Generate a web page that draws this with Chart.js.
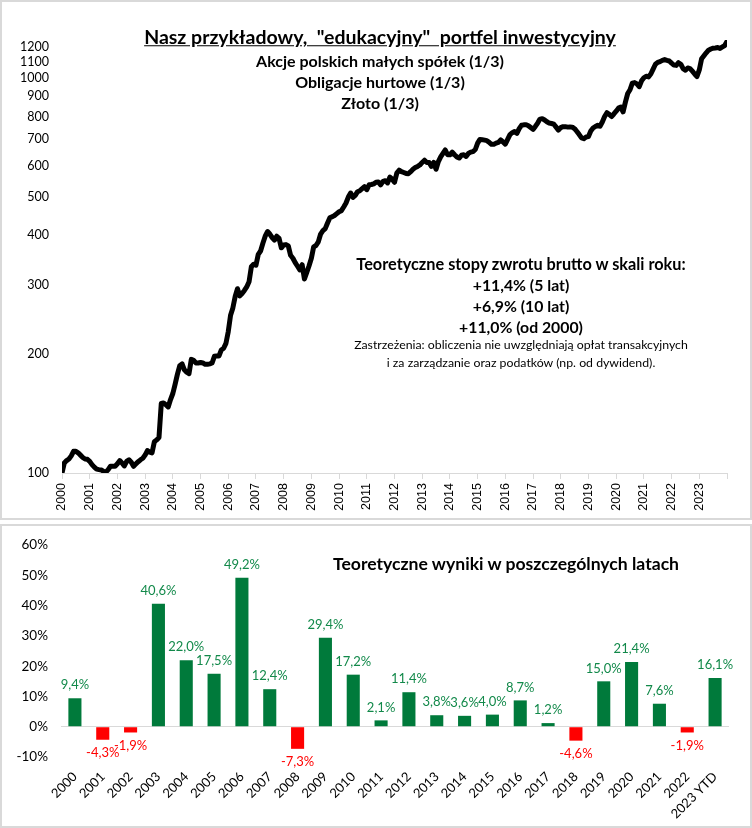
<!DOCTYPE html>
<html><head><meta charset="utf-8">
<script src="https://cdn.jsdelivr.net/npm/chart.js@4.4.1/dist/chart.umd.min.js"></script>
<style>
html,body{margin:0;padding:0;background:#fff;}
body{width:752px;height:828px;position:relative;overflow:hidden;font-family:Lato,"Open Sans",sans-serif;}
.box{position:absolute;box-sizing:border-box;border:2px solid #d9d9d9;}
canvas{position:absolute;left:0;}
.t{position:absolute;white-space:nowrap;transform:translate(-50%,-50%);color:#000;line-height:1;}
.b{font-weight:700;}
</style></head>
<body>
<div class="box" style="left:0;top:0;width:752px;height:520px;"></div>
<div class="box" style="left:0;top:524px;width:752px;height:304px;"></div>
<canvas id="c1" width="752" height="520" style="top:0"></canvas>
<canvas id="c2" width="752" height="304" style="top:524px"></canvas>

<div class="t b" style="left:380px;top:37px;font-size:19.5px;text-decoration:underline;">Nasz przykładowy,&nbsp; "edukacyjny"&nbsp; portfel inwestycyjny</div>
<div class="t b" style="left:380px;top:61px;font-size:16px;">Akcje polskich małych spółek (1/3)</div>
<div class="t b" style="left:380px;top:82px;font-size:16px;">Obligacje hurtowe (1/3)</div>
<div class="t b" style="left:380px;top:103px;font-size:16px;">Złoto (1/3)</div>

<div class="t b" style="left:521px;top:264px;font-size:16.3px;">Teoretyczne stopy zwrotu brutto w skali roku:</div>
<div class="t b" style="left:521px;top:285px;font-size:15.8px;">+11,4% (5 lat)</div>
<div class="t b" style="left:521px;top:306px;font-size:15.8px;">+6,9% (10 lat)</div>
<div class="t b" style="left:521px;top:327px;font-size:15.8px;">+11,0% (od 2000)</div>
<div class="t" style="left:521px;top:345px;font-size:12.3px;">Zastrzeżenia: obliczenia nie uwzględniają opłat transakcyjnych</div>
<div class="t" style="left:521px;top:363px;font-size:12.3px;">i za zarządzanie oraz podatków (np. od dywidend).</div>

<div class="t b" style="left:506px;top:564px;font-size:17.6px;">Teoretyczne wyniki w poszczególnych latach</div>

<script>
// ---- Data ----
const startYear = 2000;
// monthly portfolio value (start = 100), Jan 2000 .. Jan 2024
const portfolioValues = [
  100,106,107.5,108.5,110.5,113.5,113.5,112.5,111,109.5,108.5,108.3,
  107,105,103.5,102.3,102,101.8,101,100.5,102,104,104,104,
  105.5,107.5,106,104.2,107,108,106.5,104,105.5,106.8,108,109,
  111,114,113,112.5,120,121.3,123,150,150.5,149,147,153.5,
  159,168,178,187,189,182.5,180,178.5,194,193,190,190,
  190.5,190,188.5,188.5,189,190,197.5,198,198,205,207,213,
  228,251,262,280,293,281,285,290,296,305,333,338,
  336,358,365,382,398,409,403,395,389,398,393,372,
  378,379,376,356,350,341,334,327,337,310,322,335,
  350,374,377,385,403,411,416,430,443,446,449,454,
  459,462,472,483,500,512,499,505,516,519,525,531,
  522,537,538,540,545,546,537,548,550,543,562,555,
  545,575,585,580,577,574,573,580,588,594,598,603,
  612,620,612,612,598,612,588,615,632,645,658,640,
  640,650,640,632,628,638,640,634,645,650,652,660,
  685,700,699,697,695,688,680,680,685,688,698,690,
  681,700,720,728,733,725,745,760,762,763,758,750,
  742,755,770,788,790,784,776,770,768,765,752,739,
  750,754,754,752,753,752,745,733,720,706,703,710,
  712,735,748,755,760,756,775,800,818,810,800,812,
  825,840,845,822,870,915,935,972,975,968,952,985,
  1003,1012,1008,1025,1055,1085,1097,1102,1110,1115,1110,1106,
  1092,1080,1078,1095,1085,1058,1048,1062,1058,1042,1025,1010,
  1050,1120,1140,1160,1178,1186,1192,1193,1196,1190,1200,1210,
  1240
];
const xTickYears = [2000,2001,2002,2003,2004,2005,2006,2007,2008,2009,2010,2011,2012,2013,2014,2015,2016,2017,2018,2019,2020,2021,2022,2023,2024];
const yTickValues = [100,200,300,400,500,600,700,800,900,1000,1100,1200];

const yearLabels = ['2000','2001','2002','2003','2004','2005','2006','2007','2008','2009','2010','2011','2012','2013','2014','2015','2016','2017','2018','2019','2020','2021','2022','2023 YTD'];
const annualReturns = [9.4,-4.3,-1.9,40.6,22.0,17.5,49.2,12.4,-7.3,29.4,17.2,2.1,11.4,3.8,3.6,4.0,8.7,1.2,-4.6,15.0,21.4,7.6,-1.9,16.1];
const returnTicks = [-10,0,10,20,30,40,50,60];

const GREEN = '#007a3b', RED = '#ff0000', GREEN_TXT = '#12894a';

// ---- Top chart ----
new Chart(document.getElementById('c1'), {
  type: 'line',
  data: { datasets: [{
    data: portfolioValues.map((v, i) => ({ x: startYear + i / 12, y: v })),
    borderColor: '#000', borderWidth: 5, pointRadius: 0, tension: 0,
    borderJoinStyle: 'round', borderCapStyle: 'round', fill: false
  }]},
  options: {
    responsive: false, animation: false, devicePixelRatio: 1,
    layout: { padding: { top: 40, right: 25, left: 0, bottom: 0 } },
    plugins: { legend: { display: false }, tooltip: { enabled: false } },
    scales: {
      x: {
        type: 'linear', min: 2000, max: 2024,
        afterBuildTicks: s => { s.ticks = xTickYears.map(v => ({ value: v })); },
        ticks: { autoSkip: false, minRotation: 90, maxRotation: 90,
          callback: v => (v === 2024 ? '' : String(v)),
          font: { family: 'Liberation Sans', size: 12.5 }, color: '#000', padding: 4 },
        grid: { display: true, drawOnChartArea: false, drawTicks: true, tickLength: 6, color: '#d9d9d9' },
        border: { display: true, color: '#d9d9d9', width: 1 },
        afterFit: s => { s.height = 47; }
      },
      y: {
        type: 'logarithmic', min: 100, max: 1250,
        afterBuildTicks: s => { s.ticks = yTickValues.map(v => ({ value: v })); },
        ticks: { callback: v => String(v), font: { family: 'Lato', size: 12.5 }, color: '#000', padding: 13 },
        grid: { display: false, drawTicks: false },
        border: { display: false },
        afterFit: s => { s.width = 62; }
      }
    }
  }
});

// ---- Bottom chart ----
const barLabels = {
  id: 'barLabels',
  afterDatasetsDraw(chart) {
    const ctx = chart.ctx;
    const meta = chart.getDatasetMeta(0);
    ctx.save();
    ctx.font = '13px Lato';
    ctx.textAlign = 'center';
    ctx.textBaseline = 'middle';
    meta.data.forEach((bar, i) => {
      const v = annualReturns[i];
      ctx.fillStyle = v >= 0 ? GREEN_TXT : RED;
      const txt = v.toFixed(1).replace('.', ',') + '%';
      ctx.fillText(txt, bar.x, v >= 0 ? bar.y - 13 : bar.y + 13);
    });
    ctx.restore();
  }
};

new Chart(document.getElementById('c2'), {
  type: 'bar',
  data: { labels: yearLabels, datasets: [{
    data: annualReturns,
    backgroundColor: annualReturns.map(v => v >= 0 ? GREEN : RED),
    barPercentage: 0.47, categoryPercentage: 1
  }]},
  options: {
    responsive: false, animation: false, devicePixelRatio: 1,
    layout: { padding: { top: 18, right: 23, left: 0, bottom: 0 } },
    plugins: { legend: { display: false }, tooltip: { enabled: false } },
    scales: {
      x: {
        ticks: { autoSkip: false, minRotation: 45, maxRotation: 45,
          font: { family: 'Lato', size: 13 }, color: '#000', padding: 4 },
        grid: { display: false }, border: { display: false },
        afterFit: s => { s.height = 71; }
      },
      y: {
        min: -10, max: 60,
        afterBuildTicks: s => { s.ticks = returnTicks.map(v => ({ value: v })); },
        ticks: { callback: v => v + '%', font: { family: 'Lato', size: 13.5 }, color: '#000', padding: 13 },
        grid: { color: c => (c.tick && c.tick.value === 0 ? '#d9d9d9' : 'rgba(0,0,0,0)'), drawTicks: false, lineWidth: 1 },
        border: { display: false },
        afterFit: s => { s.width = 61; }
      }
    }
  },
  plugins: [barLabels]
});
</script>
</body></html>
